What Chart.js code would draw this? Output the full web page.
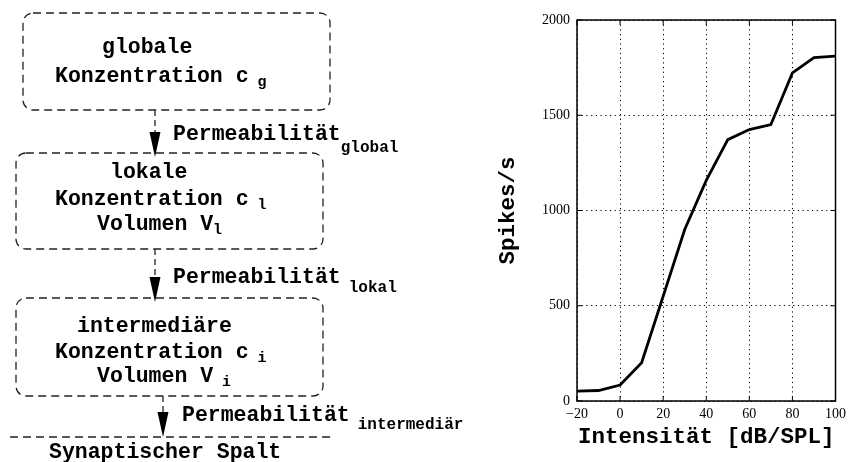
<!DOCTYPE html>
<html>
<head>
<meta charset="utf-8">
<script src="https://cdn.jsdelivr.net/npm/chart.js@4"></script>
<style>
  html, body { margin: 0; padding: 0; background: #fff; }
  #wrap { width: 851px; height: 462px; }
</style>
</head>
<body>
<div id="wrap"><canvas id="chart" width="851" height="462"></canvas></div>
<script>
// data
const intensity = [-20, -10, 0, 10, 20, 30, 40, 50, 60, 70, 80, 90, 100];
const spikes = [52, 55, 84, 201, 550, 900, 1158, 1372, 1425, 1451, 1722, 1803, 1810];

const xTitle = "Intensität [dB/SPL]";
const yTitle = "Spikes/s";

// left diagram text
const boxLines = [
  [["globale"], ["Konzentration c", " g"]],
  [["lokale"], ["Konzentration c", " l"], ["Volumen V", "l"]],
  [["intermediäre"], ["Konzentration c", " i"], ["Volumen V", " i"]],
];
const permLabels = ["global", "lokal", "intermediär"];
const bottomLabel = "Synaptischer Spalt";

const mono = '"Liberation Mono", "Courier New", monospace';
const serif = '"Liberation Serif", "Times New Roman", serif';

function drawRun(ctx, x, y, main, sub, size, subSize, gap) {
  ctx.font = "bold " + size + "px " + mono;
  ctx.fillText(main, x, y);
  if (sub) {
    const w = ctx.measureText(main).width;
    ctx.font = "bold " + subSize + "px " + mono;
    ctx.fillText(sub, x + w + (gap || 0), y + 5);
  }
}

function dashedBox(ctx, x, y, w, h) {
  ctx.beginPath();
  ctx.roundRect(x, y, w, h, 10);
  ctx.stroke();
}

function arrow(ctx, x, y0, y1, headLen) {
  ctx.setLineDash([6, 4]);
  ctx.beginPath();
  ctx.moveTo(x, y0);
  ctx.lineTo(x, y1 - headLen);
  ctx.stroke();
  ctx.setLineDash([]);
  ctx.beginPath();
  ctx.moveTo(x - 5.5, y1 - headLen);
  ctx.lineTo(x + 5.5, y1 - headLen);
  ctx.lineTo(x, y1);
  ctx.closePath();
  ctx.fill();
}

const diagram = {
  id: "diagram",
  afterDraw(chart) {
    const ctx = chart.ctx;
    ctx.save();
    ctx.strokeStyle = "#222";
    ctx.fillStyle = "#000";
    ctx.lineWidth = 1.3;
    ctx.setLineDash([8, 5]);
    dashedBox(ctx, 23, 13, 307, 97);
    dashedBox(ctx, 16, 153, 307, 96);
    dashedBox(ctx, 16, 298, 307, 98);
    ctx.beginPath();
    ctx.moveTo(10, 437);
    ctx.lineTo(333, 437);
    ctx.stroke();

    arrow(ctx, 155, 110, 157, 25);
    arrow(ctx, 155, 249, 302, 25);
    arrow(ctx, 163, 396, 437, 25);

    ctx.textBaseline = "middle";
    ctx.textAlign = "left";
    const starts = [[102, 55], [110, 55, 97], [77, 55, 97]];
    const ys = [[48, 77], [173, 200, 225], [327, 353, 377]];
    boxLines.forEach((lines, b) => {
      lines.forEach((ln, i) => {
        drawRun(ctx, starts[b][i], ys[b][i], ln[0], ln[1], 21.5, 15, 0);
      });
    });

    const permPos = [[173, 135, 148], [173, 278, 288], [182, 416, 425]];
    permLabels.forEach((s, i) => {
      const p = permPos[i];
      ctx.font = "bold 21.5px " + mono;
      ctx.fillText("Permeabilität", p[0], p[1]);
      const w = ctx.measureText("Permeabilität").width;
      ctx.font = "bold 16px " + mono;
      ctx.fillText(s, p[0] + w + (i === 0 ? 0 : 8), p[2]);
    });

    ctx.font = "bold 21.5px " + mono;
    ctx.fillText(bottomLabel, 49, 453);
    ctx.restore();
  },
};

const frame = {
  id: "frame",
  afterDatasetsDraw(chart) {
    const { ctx, chartArea: a, scales } = chart;
    ctx.save();
    ctx.strokeStyle = "#000";
    ctx.lineWidth = 1.5;
    ctx.strokeRect(a.left, a.top, a.right - a.left, a.bottom - a.top);
    ctx.lineWidth = 1;
    ctx.beginPath();
    scales.x.ticks.forEach((t) => {
      const px = scales.x.getPixelForValue(t.value);
      ctx.moveTo(px, a.bottom); ctx.lineTo(px, a.bottom - 5);
      ctx.moveTo(px, a.top); ctx.lineTo(px, a.top + 5);
    });
    scales.y.ticks.forEach((t) => {
      const py = scales.y.getPixelForValue(t.value);
      ctx.moveTo(a.left, py); ctx.lineTo(a.left + 5, py);
      ctx.moveTo(a.right, py); ctx.lineTo(a.right - 5, py);
    });
    ctx.stroke();
    ctx.restore();
  },
};

new Chart(document.getElementById("chart"), {
  type: "line",
  data: {
    datasets: [
      {
        data: intensity.map((x, i) => ({ x: x, y: spikes[i] })),
        borderColor: "#000",
        borderWidth: 2.8,
        pointRadius: 0,
        tension: 0,
      },
    ],
  },
  options: {
    responsive: false,
    animation: false,
    layout: { padding: { left: 490, right: 14, top: 20, bottom: 0 } },
    plugins: { legend: { display: false }, tooltip: { enabled: false } },
    scales: {
      x: {
        type: "linear",
        min: -20,
        max: 100,
        afterFit: (s) => { s.height = 61; },
        ticks: {
          stepSize: 20,
          padding: 5,
          color: "#000",
          font: { family: serif, size: 14 },
          callback: (v) => (v < 0 ? "\u2212" + Math.abs(v) : String(v)),
        },
        grid: { color: "#000", lineWidth: 1, drawTicks: false },
        border: { display: false, dash: [1.2, 3.5] },
        title: {
          display: true,
          text: xTitle,
          color: "#000",
          font: { family: mono, size: 22.5, weight: "bold" },
          padding: { top: 0, bottom: 11 },
        },
      },
      y: {
        min: 0,
        max: 2000,
        afterFit: (s) => { s.width = 87; },
        ticks: {
          stepSize: 500,
          padding: 7,
          color: "#000",
          font: { family: serif, size: 14 },
          callback: (v) => String(v),
        },
        grid: { color: "#000", lineWidth: 1, drawTicks: false },
        border: { display: false, dash: [1.2, 3.5] },
        title: {
          display: true,
          text: yTitle,
          color: "#000",
          font: { family: mono, size: 22.5, weight: "bold" },
          padding: { top: 5, bottom: 0 },
        },
      },
    },
  },
  plugins: [diagram, frame],
});
</script>
</body>
</html>
